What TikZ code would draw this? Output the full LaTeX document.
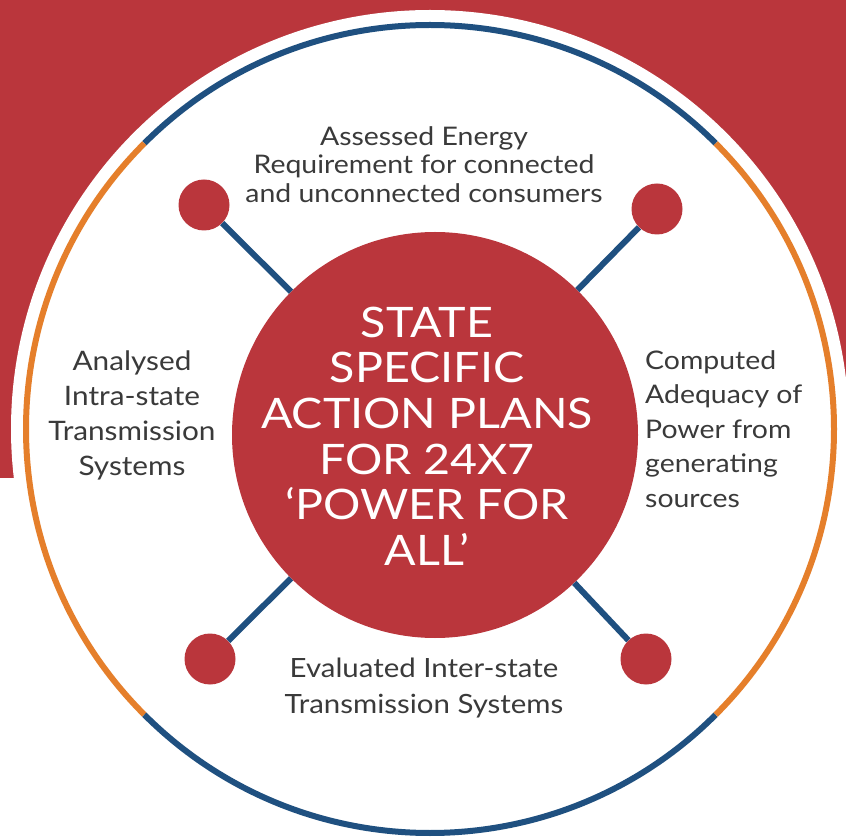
\documentclass[tikz,border=0pt]{standalone}
\usepackage{fontspec}
\setmainfont{Lato}[FakeStretch=1.11]
\usetikzlibrary{positioning}

\definecolor{planred}{HTML}{BA363C}
\definecolor{planblue}{HTML}{1F5080}
\definecolor{planorange}{HTML}{E57F2B}
\definecolor{plantext}{HTML}{3A3A3A}

\begin{document}
\begin{tikzpicture}[x=1pt,y=1pt,
                    reddot/.style={circle,fill=planred,minimum size=51pt,inner sep=0pt},
                    hub/.style={circle,fill=planred,minimum size=406pt,inner sep=0pt},
                    hubtext/.style={text=white,align=center,inner sep=0pt,
                                    font=\fontsize{42}{45.6}\selectfont},
                    infotext/.style={text=plantext,inner sep=0pt},
                    spoke/.style={draw=planblue,line width=6pt},
                    ringarc/.style={line width=6pt}]
    \useasboundingbox (0,0) rectangle (846,839);

    % backdrop
    \fill[planred] (0,361) rectangle (846,839);
    \fill[white] (430,410) circle (419);

    % outer ring
    \coordinate (C) at (430,410);
    \draw[ringarc,planblue]   (C) ++(45:404)  arc (45:135:404);
    \draw[ringarc,planorange] (C) ++(135:404) arc (135:225:404);
    \draw[ringarc,planblue]   (C) ++(225:404) arc (225:315:404);
    \draw[ringarc,planorange] (C) ++(315:404) arc (315:405:404);

    \node[hub] (hub) at (435,404) {};
    \node[hubtext] (title) at (427,403)
        {STATE\\SPECIFIC\\ACTION PLANS\\FOR 24X7\\‘POWER FOR\\ALL’};

    \node[reddot] (tl) at (204,634) {};
    \node[reddot] (tr) at (657,630) {};
    \node[reddot] (bl) at (210,180) {};
    \node[reddot] (br) at (646,180) {};

    \foreach \d in {tl,tr,bl,br}
        \draw[spoke] (\d) -- (hub);

    \node[infotext,align=center,font=\fontsize{25.6}{28.5}\selectfont] (energy) at (424,674.5)
        {Assessed Energy\\Requirement for connected\\and unconnected consumers};
    \node[infotext,align=center,font=\fontsize{26.8}{35}\selectfont] (intra) at (132,424)
        {Analysed\\Intra-state\\Transmission\\Systems};
    \node[infotext,align=left,anchor=west,font=\fontsize{25.6}{34.5}\selectfont] (adequacy) at (645,410)
        {Computed\\Adequacy of\\Power from\\generating\\sources};
    \node[infotext,align=center,font=\fontsize{26.5}{36}\selectfont] (inter) at (424,151)
        {Evaluated Inter-state\\Transmission Systems};
\end{tikzpicture}
\end{document}
